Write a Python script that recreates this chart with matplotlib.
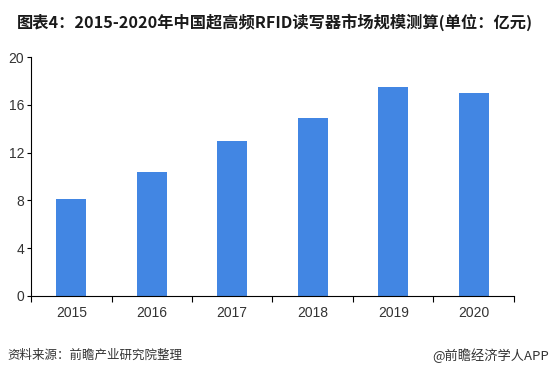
import numpy as np
import matplotlib.pyplot as plt

plt.rcParams['font.family'] = ['Noto Sans CJK SC', 'DejaVu Sans']

years = ['2015', '2016', '2017', '2018', '2019', '2020']
values = [8.1, 10.4, 13.0, 14.9, 17.5, 17.0]
yticks = [0, 4, 8, 12, 16, 20]

fig = plt.figure(figsize=(5.5, 3.76), dpi=100)
ax = fig.add_axes([0.0564, 0.2128, 0.878, 0.6356])

x = np.arange(len(years))
ax.bar(x, values, width=0.37, color='#4286e3', zorder=2)

ax.set_xlim(-0.5, len(years) - 0.5)
ax.set_ylim(0, 20)
ax.set_yticks(yticks)
ax.set_xticks(x)
ax.set_xticklabels(years)
ax.set_xticks(np.arange(-0.5, len(years), 1), minor=True)
ax.tick_params(axis='x', which='major', length=0, pad=7, labelsize=10, labelcolor='#333333')
ax.tick_params(axis='x', which='minor', length=4, width=0.8, direction='out')
ax.tick_params(axis='y', length=3, width=0.8, pad=2, labelsize=10, labelcolor='#333333')
for lab in ax.get_xticklabels() + ax.get_yticklabels():
    lab.set_family('Liberation Sans')

for s in ['top', 'right']:
    ax.spines[s].set_visible(False)
for s in ['left', 'bottom']:
    ax.spines[s].set_linewidth(0.8)
    ax.spines[s].set_color('black')

fig.text(0.031, 0.94, '图表4：2015-2020年中国超高频RFID读写器市场规模测算(单位：亿元)',
         fontsize=11.7, fontweight='bold', color='#1a1a1a', va='center', ha='left')
fig.text(0.013, 0.055, '资料来源：前瞻产业研究院整理', fontsize=9, color='#333333',
         va='center', ha='left')
fig.text(0.998, 0.055, '@前瞻经济学人APP', fontsize=9.5, color='#333333',
         va='center', ha='right')

fig.savefig('out.png', dpi=100)
